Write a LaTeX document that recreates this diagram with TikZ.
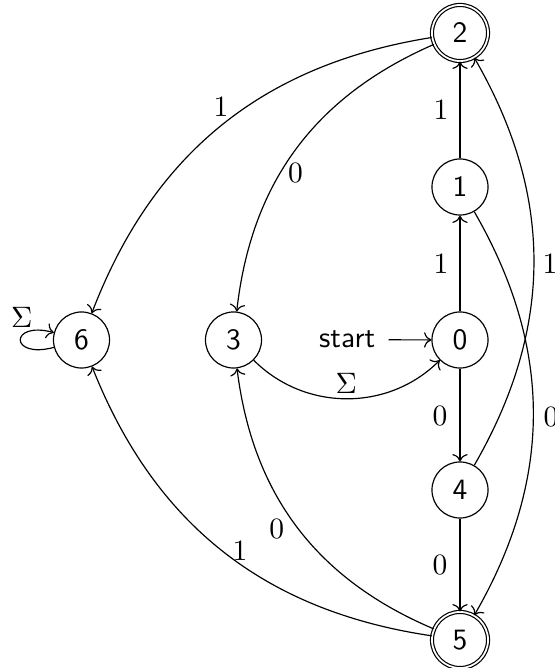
\documentclass[tikz,border=0pt]{standalone}
\usetikzlibrary{arrows.meta}

\tikzset{
  state/.style={circle, draw, line width=0.4pt, minimum size=19pt, inner sep=0pt, font=\sffamily},
  accept/.style={state, double, double distance=0.6pt},
  trans/.style={->, line width=0.4pt},
  lbl/.style={inner sep=0pt}
}

\begin{document}
\begin{tikzpicture}[x=0.339pt, y=0.339pt]
  \useasboundingbox (0,0) rectangle (555,668);

  % states
  \node[state]  (q6) at (81.5,328) {6};
  \node[state]  (q3) at (233.5,328) {3};
  \node[state]  (q0) at (460,328) {0};
  \node[state]  (q1) at (460,481) {1};
  \node[accept] (q2) at (460,635) {2};
  \node[state]  (q4) at (460,178) {4};
  \node[accept] (q5) at (460,28) {5};

  % initial marker
  \node[font=\sffamily, inner sep=0pt, outer sep=4.5pt] (start) at (347.2,328.3) {start};
  \draw[trans] (start) -- (q0);

  % straight transitions along the column
  \draw[trans] (q0) -- (q1);
  \draw[trans] (q1) -- (q2);
  \draw[trans] (q0) -- (q4);
  \draw[trans] (q4) -- (q5);

  % curved transitions
  \draw[trans] (q1) to[bend left=30] (q5);
  \draw[trans] (q4) to[bend right=30] (q2);
  \draw[trans] (q2) to[bend right=30] (q6);
  \draw[trans] (q2) to[bend right=30] (q3);
  \draw[trans] (q5) to[bend left=30] (q3);
  \draw[trans] (q5) to[bend left=30] (q6);
  \draw[trans] (q3) to[bend right=45] (q0);
  \draw[trans] (q6) to[out=195, in=165, looseness=8, min distance=5mm] (q6);

  % transition labels
  \node[lbl] (l12) at (441,558) {$1$};
  \node[lbl] (l01) at (441,404) {$1$};
  \node[lbl] (l04) at (440,252) {$0$};
  \node[lbl] (l45) at (440,103) {$0$};
  \node[lbl] (l42) at (550,404) {$1$};
  \node[lbl] (l15) at (551,251) {$0$};
  \node[lbl] (l26) at (221,561) {$1$};
  \node[lbl] (l23) at (295.5,495.5) {$0$};
  \node[lbl] (l53) at (276.7,139.5) {$0$};
  \node[lbl] (l56) at (240,117) {$1$};
  \node[lbl] (l30) at (346.3,285) {$\Sigma$};
  \node[lbl] (l66) at (21.7,350.5) {$\Sigma$};
\end{tikzpicture}
\end{document}
